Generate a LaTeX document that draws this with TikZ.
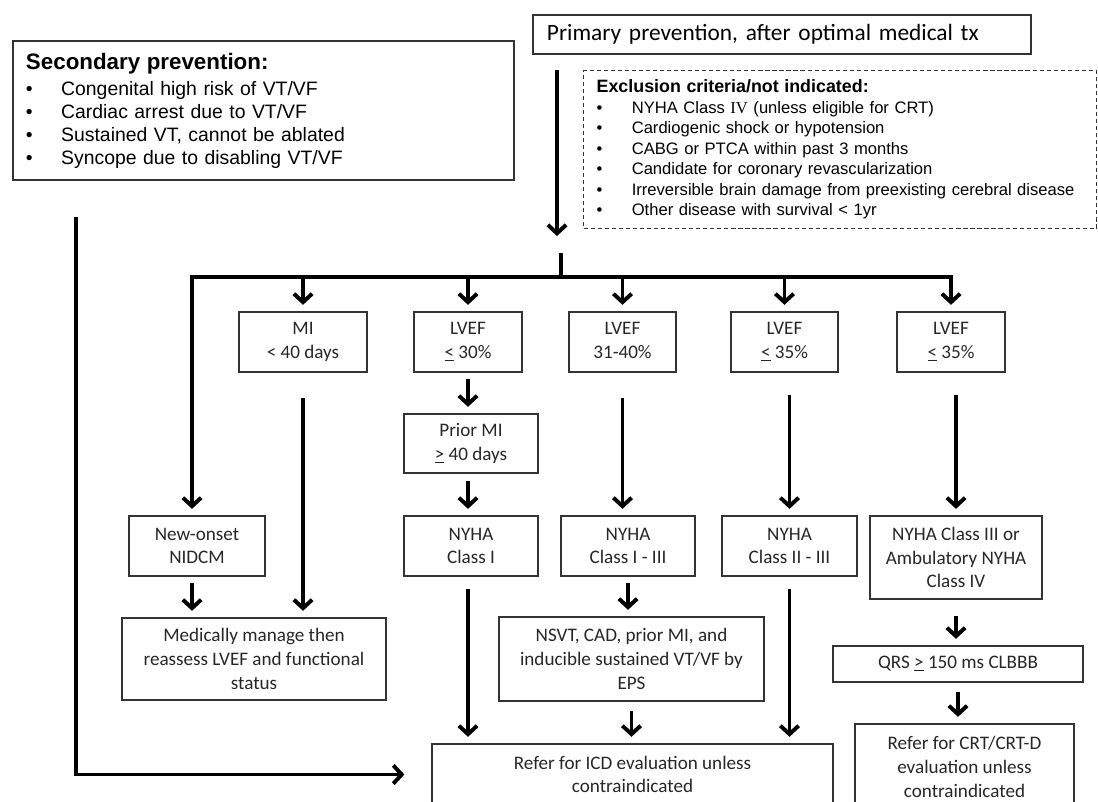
\documentclass[tikz,border=0pt]{standalone}
\usepackage{fontspec}
\setmainfont{Carlito}
\newfontfamily\arial{Liberation Sans}
\newfontfamily\romfont{Liberation Serif}
\usetikzlibrary{arrows.meta,calc}
\newcommand{\bulitem}[1]{\makebox[25pt][l]{\textbullet}#1}

\begin{document}
\begin{tikzpicture}[x=0.025cm,y=-0.025cm,
  box/.style={draw=black!80, line width=1.2pt, align=center, inner sep=2pt, text=black!85,
    font=\fontsize{13.6}{16.8}\selectfont},
  arr/.style={line width=2.8pt, -{Straight Barb[length=6pt,width=13pt]}, shorten >=4.5pt},
  bar/.style={line width=2.8pt}]
\useasboundingbox (0,0) rectangle (1098,802);

\node[draw=black!80, line width=1.4pt, anchor=north west, minimum width=12.525cm, minimum height=3.375cm,
  text width=11.875cm, inner xsep=0.325cm, inner ysep=0.3cm, align=left,
  font=\arial\fontsize{13.8}{16.4}\selectfont] (sec) at (12,40)
  {{\fontsize{15.9}{16.4}\selectfont\bfseries Secondary prevention:}\\[2pt]
   \bulitem{Congenital high risk of VT/VF}\\
   \bulitem{Cardiac arrest due to VT/VF}\\
   \bulitem{Sustained VT, cannot be ablated}\\
   \bulitem{Syncope due to disabling VT/VF}};

\node[draw=black!80, line width=1.4pt, anchor=north west, minimum width=12.45cm, minimum height=0.975cm,
  text width=11.75cm, inner xsep=0.35cm, align=left, font=\fontsize{16.6}{19}\selectfont] (prim) at (532,14)
  {Primary prevention, after optimal medical tx};

\node[draw=black!80, line width=0.9pt, dash pattern=on 3pt off 2pt, anchor=north west,
  minimum width=12.825cm, minimum height=3.95cm, text width=12.175cm, inner xsep=0.325cm, align=left,
  font=\arial\fontsize{11.8}{14.6}\selectfont] (excl) at (583,70)
  {{\fontsize{12.7}{14.6}\selectfont\bfseries Exclusion criteria/not indicated:}\\
   \bulitem{NYHA Class {\romfont IV} (unless eligible for CRT)}\\
   \bulitem{Cardiogenic shock or hypotension}\\
   \bulitem{CABG or PTCA within past 3 months}\\
   \bulitem{Candidate for coronary revascularization}\\
   \bulitem{Irreversible brain damage from preexisting cerebral disease}\\
   \bulitem{Other disease with survival < 1yr}};

% first row
\node[box, minimum width=3.2cm, minimum height=1.5cm] (mi) at (303,342) {MI\\< 40 days};
\node[box, minimum width=2.7cm, minimum height=1.5cm] (lvefa) at (468,342) {LVEF\\\underline{<} 30\%};
\node[box, minimum width=2.675cm, minimum height=1.5cm] (lvefb) at (622.5,342)
  {LVEF\\31-40\%\vphantom{\underline{<}}};
\node[box, minimum width=2.675cm, minimum height=1.5cm] (lvefc) at (784.5,342) {LVEF\\\underline{<} 35\%};
\node[box, minimum width=2.7cm, minimum height=1.5cm] (lvefd) at (951,342) {LVEF\\\underline{<} 35\%};

\node[box, minimum width=3.35cm, minimum height=1.475cm] (prior) at (471,443.5) {Prior MI\\\underline{>} 40 days};

% second row
\node[box, minimum width=3.4cm, minimum height=1.5cm] (newon) at (197,546) {New-onset\\NIDCM};
\node[box, minimum width=3.35cm, minimum height=1.5cm] (nyhaa) at (471,546) {NYHA\\Class I};
\node[box, minimum width=3.35cm, minimum height=1.5cm] (nyhab) at (628,546) {NYHA\\Class I - III};
\node[box, minimum width=3.375cm, minimum height=1.5cm] (nyhac) at (789.5,546) {NYHA\\Class II - III};
\node[box, minimum width=4.3cm, minimum height=2.075cm] (nyhad) at (956,557.5)
  {NYHA Class III or\\Ambulatory NYHA\\Class IV};

% third row
\node[box, minimum width=6.6cm, minimum height=2.05cm] (medic) at (254,659)
  {Medically manage then\\reassess LVEF and functional\\status};
\node[box, minimum width=6.625cm, minimum height=2.1cm] (nsvt) at (631.5,659)
  {NSVT, CAD, prior MI, and\\inducible sustained VT/VF by\\EPS};
\node[box, minimum width=6.25cm, minimum height=0.9cm] (qrs) at (958,664) {QRS \underline{>} 150 ms CLBBB};

% bottom row
\node[box, minimum width=10.025cm, minimum height=1.525cm] (icd) at (632.5,774.5)
  {Refer for ICD evaluation unless\\contraindicated};
\node[box, minimum width=5.475cm, minimum height=2.15cm] (crt) at (964.5,767)
  {Refer for CRT/CRT-D\\evaluation unless\\contraindicated};

\coordinate (down1) at (557,70);
\coordinate (down2) at (557,236);
\coordinate (stub) at (561,253);
\coordinate (barL) at (192,277);
\coordinate (barR) at (951,277);
\coordinate (secdown) at (76,217);

\draw[arr, shorten >=0pt] (down1) -- (down2);
\draw[bar] (stub) -- (stub |- barL);
\draw[arr] (barR) -- (barL) -- (barL |- newon.north);
\draw[arr] (barL) -- (barR) -- (lvefd.north);
\foreach \n in {mi,lvefa,lvefb,lvefc}
  \draw[arr] (\n.north |- barL) -- (\n.north);

\draw[arr, shorten >=19pt] (secdown) |- (icd.west);

\draw[arr] ($(newon.south -| barL)+(0,6)$) -- (barL |- medic.north);
\draw[arr] ($(mi.south)+(0,25)$) -- (mi.south |- medic.north);
\draw[arr] ($(lvefa.south)+(0,6)$) -- (lvefa.south |- prior.north);
\draw[arr] ($(prior.south -| lvefa.south)+(0,7)$) -- (lvefa.south |- nyhaa.north);
\draw[arr] ($(nyhaa.south -| lvefa.south)+(0,12)$) -- (lvefa.south |- icd.north);
\draw[arr] ($(lvefb.south)+(0,25)$) -- (lvefb.south |- nyhab.north);
\draw[arr] ($(nyhab.south)+(0,6)$) -- (nyhab.south |- nsvt.north);
\draw[arr] ($(nsvt.south)+(0,9)$) -- (nsvt.south |- icd.north);
\draw[arr] ($(nyhac.north |- lvefc.south)+(0,22)$) -- (nyhac.north);
\draw[arr] ($(nyhac.south)+(0,12)$) -- (nyhac.south |- icd.north);
\draw[arr] ($(nyhad.north |- lvefd.south)+(0,22)$) -- (nyhad.north);
\draw[arr] ($(nyhad.south)+(0,16)$) -- (nyhad.south |- qrs.north);
\draw[arr] ($(qrs.south)+(0,9)$) -- (qrs.south |- crt.north);
\end{tikzpicture}
\end{document}
